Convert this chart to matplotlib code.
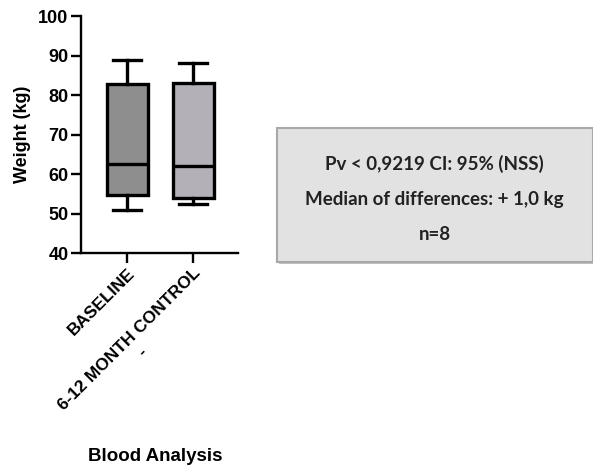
import matplotlib.pyplot as plt
from matplotlib.patches import Rectangle

# box statistics (kg)
groups = ["BASELINE", "6-12 MONTH CONTROL\n-"]
whisker_low = [51.0, 52.4]
q1 = [54.6, 54.0]
medians = [62.5, 62.1]
q3 = [82.7, 83.0]
whisker_high = [88.9, 88.0]
box_colors = ["#8e8e8e", "#b3b0b8"]
info_lines = ["Pv < 0,9219 CI: 95% (NSS)", "Median of differences: + 1,0 kg", "n=8"]

plt.rcParams['font.family'] = ['Liberation Sans', 'DejaVu Sans']

fig = plt.figure(figsize=(5.93, 4.68), dpi=100)
ax = fig.add_axes([0.1366, 0.4594, 0.2647, 0.5064])

stats = []
for i, g in enumerate(groups):
    stats.append({'label': g, 'whislo': whisker_low[i], 'q1': q1[i], 'med': medians[i],
                  'q3': q3[i], 'whishi': whisker_high[i], 'fliers': []})

lw = 2.4
bp = ax.bxp(stats, positions=[1, 2], widths=0.62, patch_artist=True, showfliers=False,
            capwidths=0.42,
            boxprops=dict(linewidth=lw, edgecolor='black'),
            medianprops=dict(color='black', linewidth=lw),
            whiskerprops=dict(color='black', linewidth=lw),
            capprops=dict(color='black', linewidth=lw))
for patch, c in zip(bp['boxes'], box_colors):
    patch.set_facecolor(c)

ax.set_ylim(40, 100)
ax.set_xlim(0.303, 2.68)
ax.set_yticks(range(40, 101, 10))
for s in ['top', 'right']:
    ax.spines[s].set_visible(False)
for s in ['left', 'bottom']:
    ax.spines[s].set_linewidth(1.7)
ax.tick_params(axis='both', width=1.7, length=7, labelsize=13, pad=2)
for t in ax.get_yticklabels():
    t.set_fontweight('bold')
ax.set_xticks([1, 2])
ax.set_xticklabels(groups, rotation=45, ha='right', rotation_mode='anchor',
                   fontsize=12.5, fontweight='bold', multialignment='center')
ax.set_ylabel("Weight (kg)", fontsize=13, fontweight='bold', labelpad=5)

fig.text(0.262, 0.024, "Blood Analysis", ha='center', va='center', fontsize=13.5, fontweight='bold')

# info box with a light shadow
fig.add_artist(Rectangle((0.470, 0.435), 0.535, 0.286, transform=fig.transFigure,
                         facecolor='#9a9a9a', edgecolor='none', alpha=0.6))
fig.add_artist(Rectangle((0.467, 0.440), 0.533, 0.286, transform=fig.transFigure,
                         facecolor='#e2e2e2', edgecolor='#a8a8a8', linewidth=1.5))
for k, line in enumerate(info_lines):
    fig.text(0.733, 0.650 - k * 0.076, line, ha='center', va='center',
             fontsize=13.5, fontweight='bold', family=['Lato', 'DejaVu Sans'],
             color='#222222')

fig.savefig("out.png", dpi=100)
